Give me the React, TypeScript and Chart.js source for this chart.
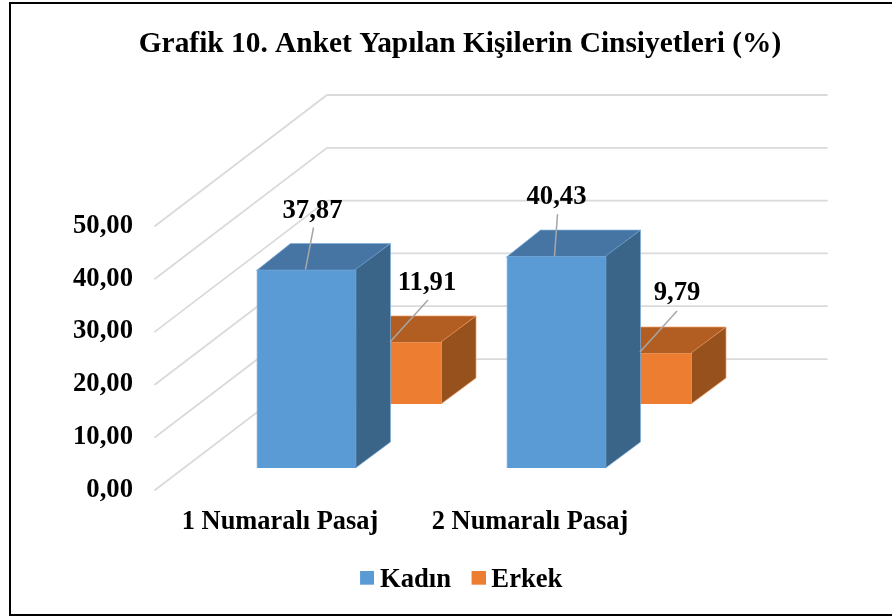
import React, { useEffect, useRef } from "react";
import { Chart, registerables } from "chart.js";

Chart.register(...registerables);

const categories = ["1 Numaralı Pasaj", "2 Numaralı Pasaj"];
const kadin = [37.87, 40.43];
const erkek = [11.91, 9.79];
const yMax = 50;
const yStep = 10;

const FONT = "'Liberation Serif', 'Times New Roman', serif";
const fmt = (v: number) => v.toFixed(2).replace(".", ",");

// Oblique projection used for the fake 3D look
const looks = [
  { front: "#5B9BD5", side: "#3A6588", top: "#4675A3", edge: "#7CAFDD", shiftX: 76.5, baseY: 468, scaleY: 0.9925 },
  { front: "#ED7D31", side: "#97511D", top: "#B25E23", edge: "#F0A06C", shiftX: 62, baseY: 404, scaleY: 0.986 },
];
const depthX = 34;
const depthY = -26;
const wallX = 172;
const wallY = -131;
const wallRight = 827;

// [leader start, leader end, text centre], relative to the top-centre of the front face
const labelGeometry = [
  [
    [[-1, 0], [7, -42], [6, -58]],
    [[-2, 0], [1, -42], [0, -59]],
  ],
  [
    [[-2, 0], [36, -42], [35, -59]],
    [[-2, -1], [35, -42], [35, -60]],
  ],
];

function project(chart: any, dsIndex: number, bar: any) {
  const look = looks[dsIndex];
  const y0 = chart.scales.y.getPixelForValue(0);
  const top = look.baseY - (y0 - bar.y) * look.scaleY;
  return {
    left: bar.x - bar.width / 2 + look.shiftX,
    right: bar.x + bar.width / 2 + look.shiftX,
    top,
    bottom: look.baseY,
  };
}

function poly(ctx: CanvasRenderingContext2D, pts: number[][], fill: string, edge: string) {
  ctx.beginPath();
  pts.forEach((p, i) => (i ? ctx.lineTo(p[0], p[1]) : ctx.moveTo(p[0], p[1])));
  ctx.closePath();
  ctx.fillStyle = fill;
  ctx.fill();
  ctx.strokeStyle = edge;
  ctx.lineWidth = 0.7;
  ctx.stroke();
}

const scene3d = {
  id: "scene3d",
  afterLayout(chart: any) {
    const l = chart.legend;
    if (l) {
      l.left += 4;
      l.right += 4;
      l.top -= 13;
      l.bottom -= 13;
    }
  },
  beforeDatasetsDraw(chart: any) {
    const { ctx, scales, chartArea } = chart;
    ctx.save();
    ctx.strokeStyle = "#DADADA";
    ctx.lineWidth = 1.8;
    ctx.lineCap = "round";
    scales.y.ticks.forEach((t: any) => {
      const y = scales.y.getPixelForValue(t.value);
      ctx.beginPath();
      ctx.moveTo(chartArea.left, y);
      ctx.lineTo(chartArea.left + wallX, y + wallY);
      ctx.lineTo(wallRight, y + wallY);
      ctx.stroke();
    });
    ctx.restore();
  },
  beforeDatasetDraw(chart: any, args: any) {
    const { ctx, scales } = chart;
    const i = args.index;
    const look = looks[i];
    args.meta.data.forEach((bar: any) => {
      const p = project(chart, i, bar);
      ctx.save();
      poly(ctx, [[p.left, p.top + 1], [p.right, p.top + 1], [p.right + depthX, p.top + depthY], [p.left + depthX, p.top + depthY]], look.top, look.edge);
      poly(ctx, [[p.right - 1, p.top], [p.right + depthX, p.top + depthY], [p.right + depthX, p.bottom + depthY], [p.right - 1, p.bottom]], look.side, look.edge);
      ctx.restore();
    });
    const y0 = scales.y.getPixelForValue(0);
    ctx.save();
    ctx.translate(look.shiftX, look.baseY);
    ctx.scale(1, look.scaleY);
    ctx.translate(0, -y0);
  },
  afterDatasetDraw(chart: any) {
    chart.ctx.restore();
  },
  afterDatasetsDraw(chart: any) {
    const { ctx } = chart;
    ctx.save();
    chart.data.datasets.forEach((ds: any, i: number) => {
      chart.getDatasetMeta(i).data.forEach((bar: any, j: number) => {
        const p = project(chart, i, bar);
        const cx = (p.left + p.right) / 2;
        const [a, b, t] = labelGeometry[i][j];
        ctx.beginPath();
        ctx.moveTo(cx + a[0], p.top + a[1]);
        ctx.lineTo(cx + b[0], p.top + b[1]);
        ctx.strokeStyle = "#A6A6A6";
        ctx.lineWidth = 1.5;
        ctx.stroke();
        ctx.font = `bold 26.67px ${FONT}`;
        ctx.fillStyle = "#000";
        ctx.textAlign = "center";
        ctx.textBaseline = "middle";
        ctx.fillText(fmt(ds.data[j]), cx + t[0], p.top + t[1]);
      });
    });
    ctx.restore();
  },
  afterDraw(chart: any) {
    const { ctx } = chart;
    ctx.save();
    ctx.strokeStyle = "#000";
    ctx.lineWidth = 2;
    ctx.beginPath();
    ctx.moveTo(892, 3);
    ctx.lineTo(10, 3);
    ctx.lineTo(10, 615);
    ctx.lineTo(892, 615);
    ctx.stroke();
    ctx.restore();
  },
};

function swatch(color: string) {
  const c = document.createElement("canvas");
  c.width = 16;
  c.height = 18;
  const g = c.getContext("2d")!;
  g.fillStyle = color;
  g.fillRect(2, 0, 14, 14);
  return c;
}

export default function App() {
  const ref = useRef<HTMLCanvasElement>(null);
  useEffect(() => {
    document.body.style.margin = "0";
    const chart = new Chart(ref.current!, {
      type: "bar",
      data: {
        labels: categories,
        datasets: [
          { label: "Kadın", data: kadin, backgroundColor: looks[0].front, borderColor: looks[0].edge, borderWidth: 0.7, order: 0, clip: false as any },
          { label: "Erkek", data: erkek, backgroundColor: looks[1].front, borderColor: looks[1].edge, borderWidth: 0.7, order: 1, clip: false as any },
        ],
      },
      options: {
        responsive: false,
        animation: false,
        layout: { padding: { left: 28, right: 0, top: 0, bottom: 0 } },
        datasets: { bar: { barPercentage: 1, categoryPercentage: 0.8 } },
        plugins: {
          tooltip: { enabled: false },
          title: {
            display: true,
            text: "Grafik 10. Anket Yapılan Kişilerin Cinsiyetleri (%)",
            color: "#000",
            font: { family: FONT, size: 29.4, weight: "bold", lineHeight: 1.2 },
            padding: { top: 27, bottom: 163.7 },
          },
          legend: {
            display: true,
            position: "bottom",
            labels: {
              color: "#000",
              font: { family: FONT, size: 26.67, weight: "bold" },
              usePointStyle: true,
              pointStyleWidth: 1,
              padding: 26,
              generateLabels(c: any) {
                return c.data.datasets.map((d: any, i: number) => ({
                  text: d.label,
                  fillStyle: d.backgroundColor,
                  strokeStyle: d.backgroundColor,
                  lineWidth: 0,
                  pointStyle: swatch(d.backgroundColor),
                  hidden: false,
                  datasetIndex: i,
                  fontColor: "#000",
                }));
              },
            },
          },
        },
        scales: {
          x: {
            grid: { display: false },
            border: { display: false },
            ticks: {
              color: "#000",
              font: { family: FONT, size: 26.4, weight: "bold" },
              padding: 8,
              maxRotation: 0,
              autoSkip: false,
            },
            afterFit(s: any) {
              s.height = 63.3;
            },
          },
          y: {
            min: 0,
            max: yMax,
            grid: { display: false, drawTicks: false },
            border: { display: false },
            ticks: {
              stepSize: yStep,
              color: "#000",
              font: { family: FONT, size: 26.67, weight: "bold" },
              padding: 22,
              callback: (v: any) => fmt(Number(v)),
            },
            afterFit(s: any) {
              s.width = 127;
            },
          },
          y2: {
            position: "right",
            display: true,
            grid: { display: false, drawTicks: false },
            border: { display: false },
            ticks: { display: false },
            afterFit(s: any) {
              s.width = 237;
            },
          },
        },
      } as any,
      plugins: [scene3d],
    });
    return () => chart.destroy();
  }, []);
  return <canvas ref={ref} width={892} height={616} style={{ display: "block" }} />;
}
